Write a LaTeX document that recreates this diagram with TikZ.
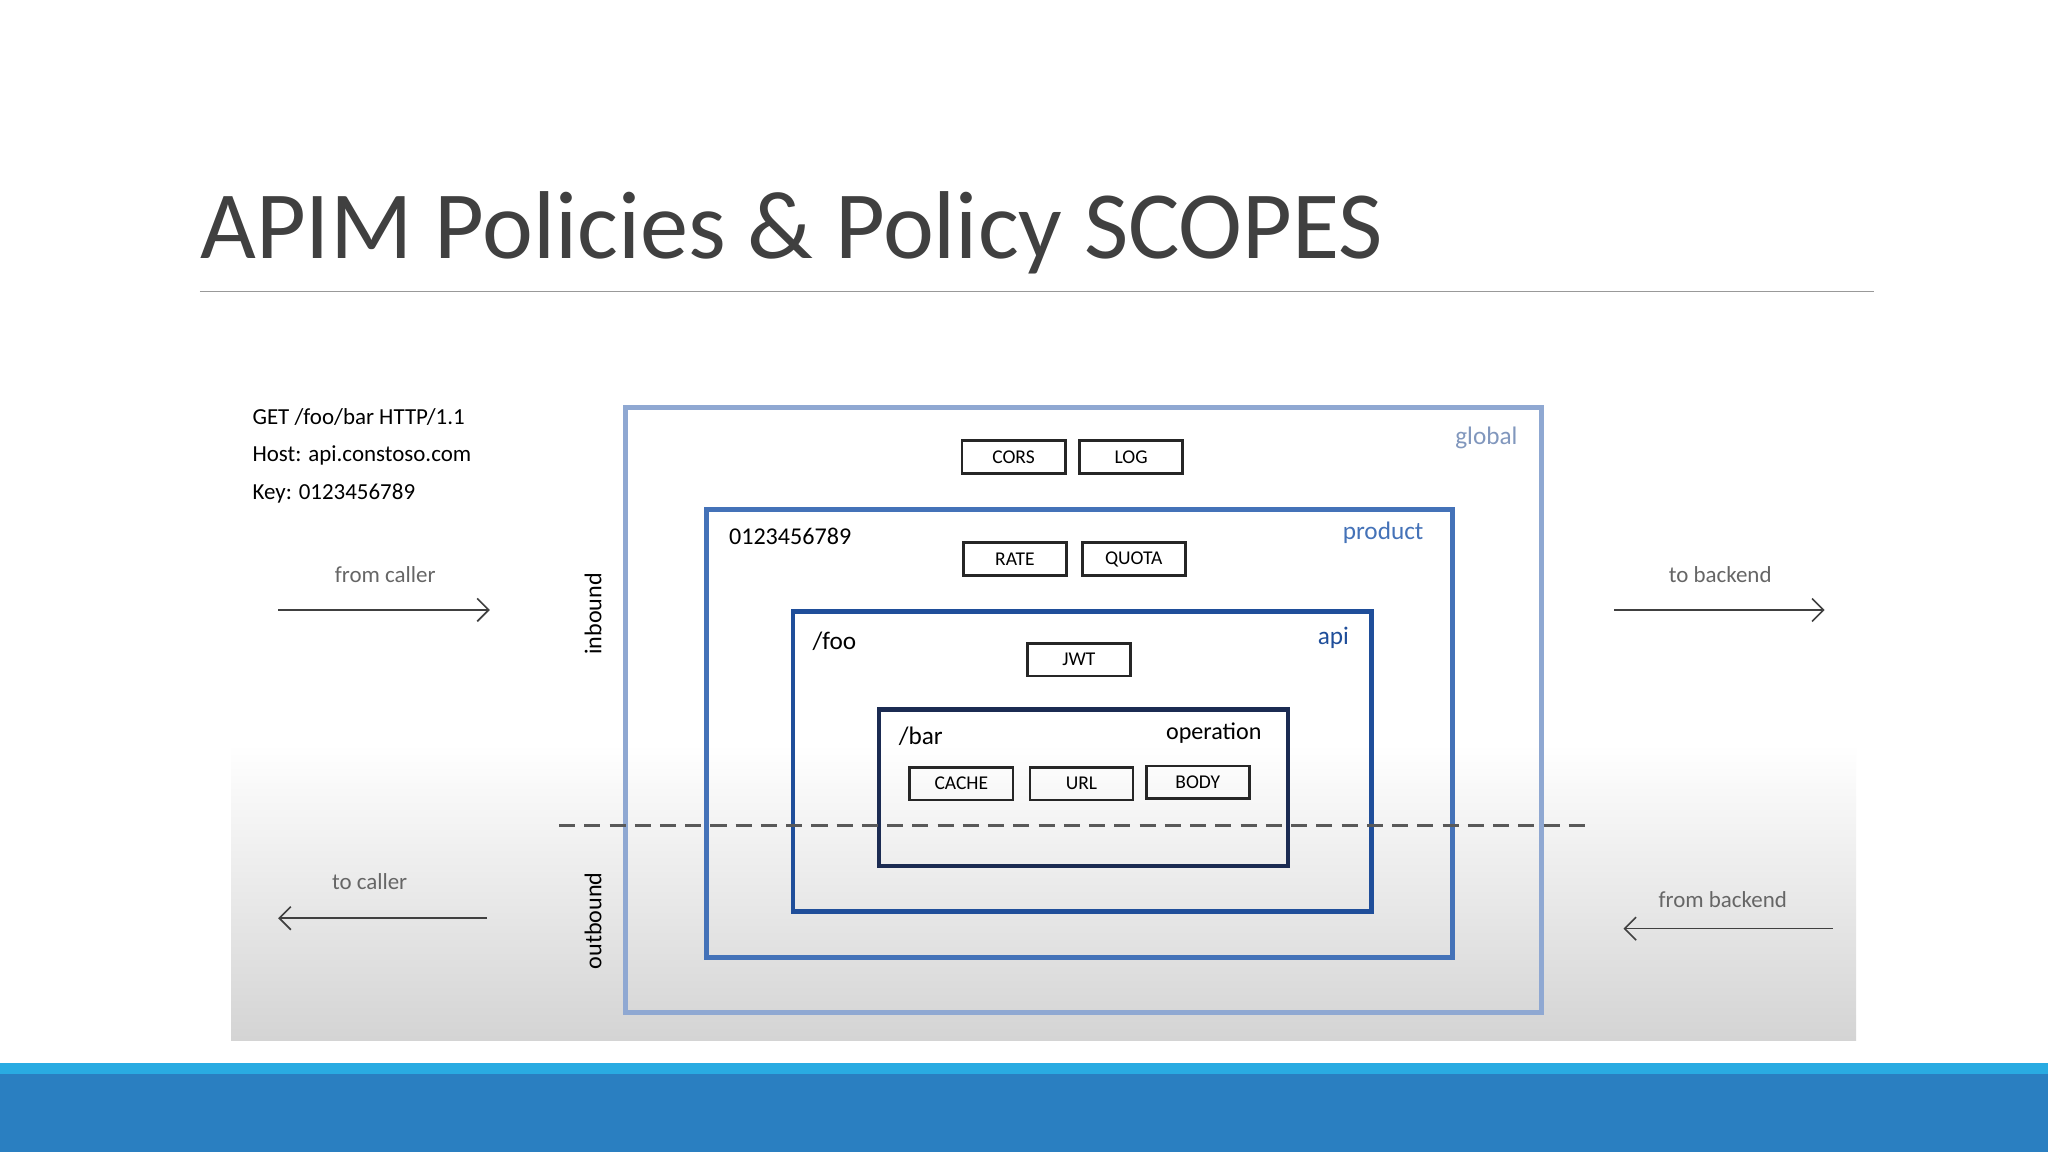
\documentclass[tikz,border=0pt]{standalone}
\usepackage{fontspec}
\setmainfont{Carlito}
\usetikzlibrary{arrows.meta}
\definecolor{glob}{HTML}{8FA8D2}
\definecolor{prod}{HTML}{4472B8}
\definecolor{apic}{HTML}{1F4E9A}
\definecolor{opc}{HTML}{1B2B52}
\definecolor{txt}{HTML}{404040}
\tikzset{
 pol/.style={draw=black!85,line width=1.2pt,minimum width=1.58cm,minimum height=0.5cm,inner sep=0pt,font=\fontsize{8.5}{10}\selectfont},
 note/.style={font=\fontsize{10}{12}\selectfont,text=black!60},
 arr/.style={-{Straight Barb[length=5pt]},line width=0.7pt,black!75},
 scopebox/.style={line width=2pt}
}
\begin{document}
\begin{tikzpicture}[x=0.02cm,y=-0.02cm]
\useasboundingbox (0,0) rectangle (1568,882);
\fill[white] (0,0) rectangle (1568,882);
% gray panel
\fill[top color=white,bottom color=black!17] (177,570) rectangle (1421,797);
% bottom bars
\fill[fill={rgb,255:red,41;green,171;blue,226}] (0,814) rectangle (1568,823);
\fill[fill={rgb,255:red,42;green,127;blue,193}] (0,822) rectangle (1568,882);
% title
\node[anchor=base west,inner sep=0pt,text=txt,font=\fontsize{42}{48}\selectfont] (title) at (153,198) {APIM Policies \& Policy SCOPES};
\draw[black!40,line width=0.6pt] (153,223) -- (1435,223);
% scopes
\draw[scopebox,glob] (479,312) rectangle (1180,775);
\node[note,text=glob!90!black,anchor=east,font=\fontsize{11}{13}\selectfont] (gl) at (1168,335) {global};
\draw[scopebox,prod] (541,390) rectangle (1112,733);
\node[anchor=east,text=prod,font=\fontsize{11}{13}\selectfont] (pr) at (1096,408) {product};
\node[anchor=west,font=\fontsize{10.5}{13}\selectfont] (key) at (552,411) {0123456789};
\draw[scopebox,apic] (607,468) rectangle (1050,698);
\node[anchor=east,text=apic,font=\fontsize{11}{13}\selectfont] (ap) at (1039,488) {api};
\node[anchor=west,font=\fontsize{11}{13}\selectfont] (foo) at (616,491) {/foo};
\draw[scopebox,opc] (673,543) rectangle (986,663);
\node[anchor=east,font=\fontsize{10.5}{13}\selectfont] (op) at (972,561) {operation};
\node[anchor=west,font=\fontsize{11}{13}\selectfont] (bar) at (682,564) {/bar};
% policies
\node[pol] (cors) at (776,350) {CORS};
\node[pol] (log) at (866,350) {LOG};
\node[pol] (rate) at (777,428) {RATE};
\node[pol] (quota) at (868,428) {QUOTA};
\node[pol] (jwt) at (826,505) {JWT};
\node[pol] (cache) at (736,600) {CACHE};
\node[pol] (url) at (828,600) {URL};
\node[pol] (body) at (917,599) {BODY};
% dashed
\draw[dashed,black!65,line width=1pt,dash pattern=on 7pt off 4pt] (428,632) -- (1220,632);
% request text
\node[anchor=west,align=left,font=\fontsize{10}{16.5}\selectfont,inner sep=0pt] (req) at (193,349) {GET /foo/bar HTTP/1.1\\Host: api.constoso.com\\Key: 0123456789};
% arrows
\node[note] (fc) at (295,440) {from caller};
\coordinate (fc1) at (213,467); \coordinate (fc2) at (375,467);
\draw[arr] (fc1) -- (fc2);
\node[note] (tc) at (283,675) {to caller};
\coordinate (tc1) at (373,703); \coordinate (tc2) at (213,703);
\draw[arr] (tc1) -- (tc2);
\node[note] (tb) at (1317,440) {to backend};
\coordinate (tb1) at (1236,467); \coordinate (tb2) at (1397,467);
\draw[arr] (tb1) -- (tb2);
\node[note] (fb) at (1319,689) {from backend};
\coordinate (fb1) at (1403,711); \coordinate (fb2) at (1243,711);
\draw[arr] (fb1) -- (fb2);
\node[rotate=90,font=\fontsize{10.5}{12}\selectfont] (inb) at (454,470) {inbound};
\node[rotate=90,font=\fontsize{10.5}{12}\selectfont] (outb) at (454,705) {outbound};
\end{tikzpicture}
\end{document}
